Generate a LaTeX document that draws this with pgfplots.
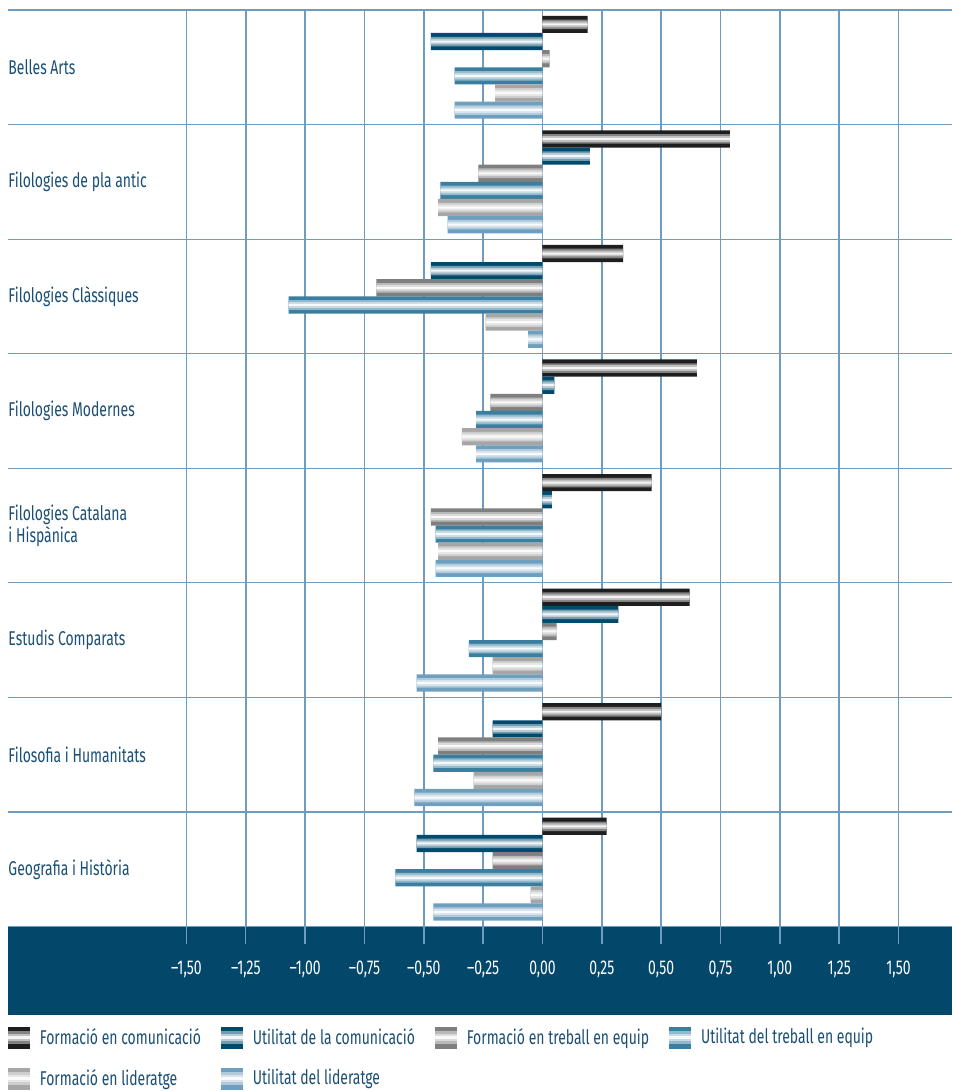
\documentclass[border=0pt]{standalone}
\usepackage{pgfplots}
\usepackage{pgfplotstable}
\pgfplotsset{compat=1.18}
\usepackage{fontspec}
\setmainfont[FakeStretch=0.70]{Fira Sans}
\definecolor{band}{HTML}{03476A}
\definecolor{txt}{HTML}{1A4F75}
\definecolor{gridc}{HTML}{6E9CBF}
\definecolor{cFC}{HTML}{1E1E1E}
\definecolor{cUC}{HTML}{004A6E}
\definecolor{cFT}{HTML}{7F7F7F}
\definecolor{cUT}{HTML}{3A7EA0}
\definecolor{cFL}{HTML}{A6A6A6}
\definecolor{cUL}{HTML}{6F9FBF}
% x = value, y = category index
\pgfplotstableread{
x y
0.19 0
0.79 1
0.34 2
0.65 3
0.46 4
0.62 5
0.50 6
0.27 7
}\tFC
\pgfplotstableread{
x y
-0.47 0
0.20 1
-0.47 2
0.05 3
0.04 4
0.32 5
-0.21 6
-0.53 7
}\tUC
\pgfplotstableread{
x y
0.03 0
-0.27 1
-0.70 2
-0.22 3
-0.47 4
0.06 5
-0.44 6
-0.21 7
}\tFT
\pgfplotstableread{
x y
-0.37 0
-0.43 1
-1.07 2
-0.28 3
-0.45 4
-0.31 5
-0.46 6
-0.62 7
}\tUT
\pgfplotstableread{
x y
-0.20 0
-0.44 1
-0.24 2
-0.34 3
-0.44 4
-0.21 5
-0.29 6
-0.05 7
}\tFL
\pgfplotstableread{
x y
-0.37 0
-0.40 1
-0.06 2
-0.28 3
-0.45 4
-0.53 5
-0.54 6
-0.46 7
}\tUL
\newcommand\stripeimg[1]{%
  \fill[#1] (0pt,-5.5pt) rectangle (11pt,5.5pt);
  \fill[#1!55!white] (0pt,-3.1pt) rectangle (11pt,3.1pt);
  \fill[#1!28!white] (0pt,-1.8pt) rectangle (11pt,1.8pt);
  \fill[white!95!#1] (0pt,-0.6pt) rectangle (11pt,0.6pt);}
\newcommand\stripebar[3]{%
  \addplot[draw=none, fill=#2, bar shift=#3, bar width=8.6pt,
    legend image code/.code={\stripeimg{#2}}] table[x=x,y=y] {#1};
  \addplot[forget plot, draw=none, fill=#2!55!white, bar shift=#3, bar width=4.8pt] table[x=x,y=y] {#1};
  \addplot[forget plot, draw=none, fill=#2!28!white, bar shift=#3, bar width=2.9pt] table[x=x,y=y] {#1};
  \addplot[forget plot, draw=none, fill=white!95!#2, bar shift=#3, bar width=1.0pt] table[x=x,y=y] {#1};
}
\begin{document}
\begin{tikzpicture}
\useasboundingbox (-4pt,-82.5pt) rectangle (473.5pt,464.5pt);
\fill[band] (0pt,-44.5pt) rectangle (473.5pt,0pt);
\begin{axis}[
  at={(0pt,0pt)}, anchor=south west,
  scale only axis, width=473.5pt, height=459.5pt,
  xmin=-2.252, xmax=1.727,
  ymin=-0.5, ymax=7.5, y dir=reverse,
  axis line style={draw=none},
  xtick={-1.5,-1.25,-1,-0.75,-0.5,-0.25,0,0.25,0.5,0.75,1,1.25,1.5},
  xticklabels={{–1,50},{–1,25},{–1,00},{–0,75},{–0,50},{–0,25},{0,00},{0,25},{0,50},{0,75},{1,00},{1,25},{1,50}},
  xtick pos=lower, tick align=outside,
  major tick length=8.8pt,
  x tick style={color=gridc, line width=0.7pt},
  xticklabel style={text=white, font=\fontsize{10}{12}\selectfont, anchor=center, yshift=-12.7pt},
  xmajorgrids, major grid style={color=gridc, line width=0.8pt},
  ytick={0,1,2,3,4,5,6,7},
  yticklabels={Belles Arts, Filologies de pla antic, Filologies Clàssiques, Filologies Modernes, {Filologies Catalana\\i Hispànica}, Estudis Comparats, Filosofia i Humanitats, Geografia i Història},
  y tick style={draw=none},
  yticklabel style={anchor=west, align=left, text=txt, font=\fontsize{10}{10}\selectfont, xshift=5.5pt},
  minor ytick={-0.5,0.5,1.5,2.5,3.5,4.5,5.5,6.5,7.5},
  yminorgrids, minor grid style={color=gridc, line width=0.6pt},
  minor tick length=0pt,
  xbar,
  legend columns=4,
  legend cell align=left,
  legend style={at={(axis description cs:0,0)}, anchor=north west, yshift=-49pt,
    draw=none, fill=none, inner sep=0pt, outer sep=0pt,
    font=\fontsize{10}{12}\selectfont, text=txt,
    row sep=7pt,
    /tikz/every odd column/.append style={column sep=3pt},
    /tikz/every even column/.append style={column sep=8pt}},
]
\stripebar{\tFC}{cFC}{21.5pt}
\stripebar{\tUC}{cUC}{12.9pt}
\stripebar{\tFT}{cFT}{4.3pt}
\stripebar{\tUT}{cUT}{-4.3pt}
\stripebar{\tFL}{cFL}{-12.9pt}
\stripebar{\tUL}{cUL}{-21.5pt}
\legend{Formació en comunicació, Utilitat de la comunicació, Formació en treball en equip, Utilitat del treball en equip, Formació en lideratge, Utilitat del lideratge}
\end{axis}
\end{tikzpicture}
\end{document}
